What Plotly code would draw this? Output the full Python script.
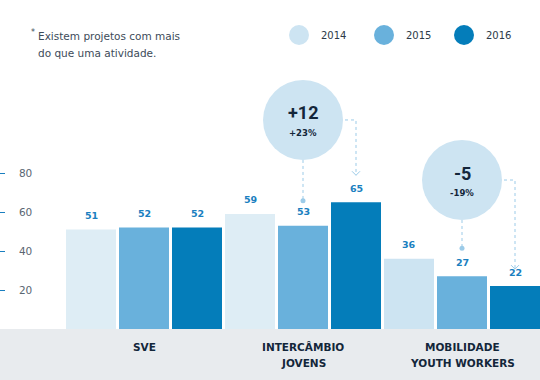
import plotly.graph_objects as go

# ---------------- data ----------------
categories = ["SVE", "INTERCÂMBIO\nJOVENS", "MOBILIDADE\nYOUTH WORKERS"]
years = ["2014", "2015", "2016"]
v2014 = [51, 59, 36]
v2015 = [52, 53, 27]
v2016 = [52, 65, 22]
y_ticks = [20, 40, 60, 80]
callout_group = [1, 2]
callout_delta = ["+12", "-5"]
callout_pct = ["+23%", "-19%"]
footnote = ["Existem projetos com mais", "do que uma atividade."]

# ---------------- style ----------------
W, H = 540, 380
MB = 51                      # bottom margin (grey band)
PH = H - MB                  # plot height in px
PX_PER_Y = 1.95
YMAX = PH / PX_PER_Y
PX_PER_X = 159.0
XMIN = -0.5 - 64.5 / PX_PER_X
XMAX = XMIN + W / PX_PER_X

c2014 = ["#deedf5", "#deedf5", "#cde4f2"]
c2014_leg = "#cde4f2"
c2015 = "#69b1dc"
c2016 = "#047dba"
navy = "#13263a"
blue_txt = "#1a80c0"
dot_col = "#9ccbe8"
FONT = "DejaVu Sans"

xcats = [c.replace("\n", " ") for c in categories]
series = [v2014, v2015, v2016]
colors = [c2014, c2015, c2016]

fig = go.Figure()
for i, (yr, vals, col) in enumerate(zip(years, series, colors)):
    fig.add_trace(go.Bar(
        x=xcats, y=vals, name=yr,
        marker=dict(color=col, line=dict(width=0)),
        hoverinfo="skip",
    ))


def bx(g, i):
    return g + (i - 1) / 3.0


def dy(px):
    return px / PX_PER_Y


def dx(px):
    return px / PX_PER_X


shapes = []
annotations = []

# grey band under the axis
shapes.append(dict(type="rect", xref="paper", yref="paper", x0=0, x1=1,
                   y0=-MB / PH, y1=0, fillcolor="#e8ebee",
                   line=dict(width=0), layer="below"))

# value labels
for i, vals in enumerate(series):
    for g, v in enumerate(vals):
        annotations.append(dict(x=bx(g, i), y=v, xref="x", yref="y",
                                text=str(v), showarrow=False, yshift=14,
                                yanchor="middle",
                                font=dict(family=FONT, size=9.5, color=blue_txt,
                                          weight="bold")))

# category labels
for g, lab in enumerate(categories):
    for j, line in enumerate(lab.split("\n")):
        annotations.append(dict(x=g, xref="x", yref="paper",
                                y=(PH - (347 + 16 * j)) / PH,
                                text=line, showarrow=False, yanchor="middle",
                                font=dict(family=FONT, size=10.5, color=navy,
                                          weight="bold")))

# call-outs
circle_y = [107.2, 76.4]
dot_px_above = [25, 28]
tip_px_above = [27, 17]
R = 40
line_style = dict(color=dot_col, width=1, dash="dot")
for k, g in enumerate(callout_group):
    cx = bx(g, 1)
    cy = circle_y[k]
    shapes.append(dict(type="circle", xref="x", yref="y",
                       xsizemode="pixel", ysizemode="pixel",
                       xanchor=cx, yanchor=cy, x0=-R, x1=R, y0=-R, y1=R,
                       fillcolor="#cde4f2", line=dict(width=0)))
    v_mid = series[1][g]
    v_end = series[2][g]
    dot_y = v_mid + dy(dot_px_above[k])
    # vertical line down to dot
    shapes.append(dict(type="line", xref="x", yref="y", x0=cx, x1=cx,
                       y0=cy - dy(R), y1=dot_y, line=line_style))
    shapes.append(dict(type="circle", xref="x", yref="y",
                       xsizemode="pixel", ysizemode="pixel",
                       xanchor=cx, yanchor=dot_y, x0=-2.5, x1=2.5, y0=-2.5, y1=2.5,
                       fillcolor=dot_col, line=dict(width=0)))
    # elbow line to the 2016 bar
    ex = bx(g, 2)
    tip_y = v_end + dy(tip_px_above[k])
    shapes.append(dict(type="path", xref="x", yref="y",
                       path=f"M {cx + dx(R + 2)} {cy} L {ex} {cy} L {ex} {tip_y}",
                       line=line_style))
    shapes.append(dict(type="path", xref="x", yref="y",
                       path=(f"M {ex - dx(4)} {tip_y + dy(4)} L {ex} {tip_y} "
                             f"L {ex + dx(4)} {tip_y + dy(4)}"),
                       line=dict(color=dot_col, width=1)))
    annotations.append(dict(x=cx, y=cy, xref="x", yref="y", text=callout_delta[k],
                            showarrow=False, yshift=7, yanchor="middle",
                            font=dict(family="Roboto", size=18, color=navy,
                                      weight="bold")))
    annotations.append(dict(x=cx, y=cy, xref="x", yref="y", text=callout_pct[k],
                            showarrow=False, yshift=-13, yanchor="middle",
                            font=dict(family=FONT, size=8.5, color=navy,
                                      weight="bold")))

# legend (manual)
leg_x = [299, 384, 464]
leg_cols = [c2014_leg, c2015, c2016]
for yr, lx, col in zip(years, leg_x, leg_cols):
    shapes.append(dict(type="circle", xref="paper", yref="paper",
                       xsizemode="pixel", ysizemode="pixel",
                       xanchor=lx / W, yanchor=(PH - 35) / PH,
                       x0=-10, x1=10, y0=-10, y1=10,
                       fillcolor=col, line=dict(width=0)))
    annotations.append(dict(x=(lx + 20) / W, y=(PH - 35) / PH, xref="paper",
                            yref="paper", text=yr, showarrow=False,
                            xanchor="left", yanchor="middle",
                            font=dict(family=FONT, size=10, color="#2d3a48")))

# footnote
annotations.append(dict(x=29 / W, y=(PH - 33) / PH, xref="paper", yref="paper",
                        text="*", showarrow=False, xanchor="left", yanchor="middle",
                        font=dict(family=FONT, size=8, color="#3d4b59")))
for j, line in enumerate(footnote):
    annotations.append(dict(x=36 / W, y=(PH - (36 + 17 * j)) / PH, xref="paper",
                            yref="paper", text=line, showarrow=False,
                            xanchor="left", yanchor="middle",
                            font=dict(family=FONT, size=10.5, color="#3d4b59")))

fig.update_layout(
    width=W, height=H,
    margin=dict(l=0, r=0, t=0, b=MB),
    paper_bgcolor="white", plot_bgcolor="white",
    barmode="group", bargap=0, bargroupgap=3 / 53,
    showlegend=False,
    shapes=shapes, annotations=annotations,
    xaxis=dict(range=[XMIN, XMAX], showticklabels=False, showgrid=False,
               zeroline=False, showline=False, ticks="", fixedrange=True),
    yaxis=dict(range=[0, YMAX], tickvals=y_ticks, ticks="inside", ticklen=5,
               tickcolor="#1a7fc0", tickwidth=1, ticklabelposition="inside",
               ticklabelstandoff=13, showgrid=False, zeroline=False,
               showline=False, fixedrange=True,
               tickfont=dict(family=FONT, size=10.5, color="#5a6672")),
)

fig.write_html("out.html", config={"displayModeBar": False},
               post_script="document.body.style.margin='0';document.body.style.padding='0';")
